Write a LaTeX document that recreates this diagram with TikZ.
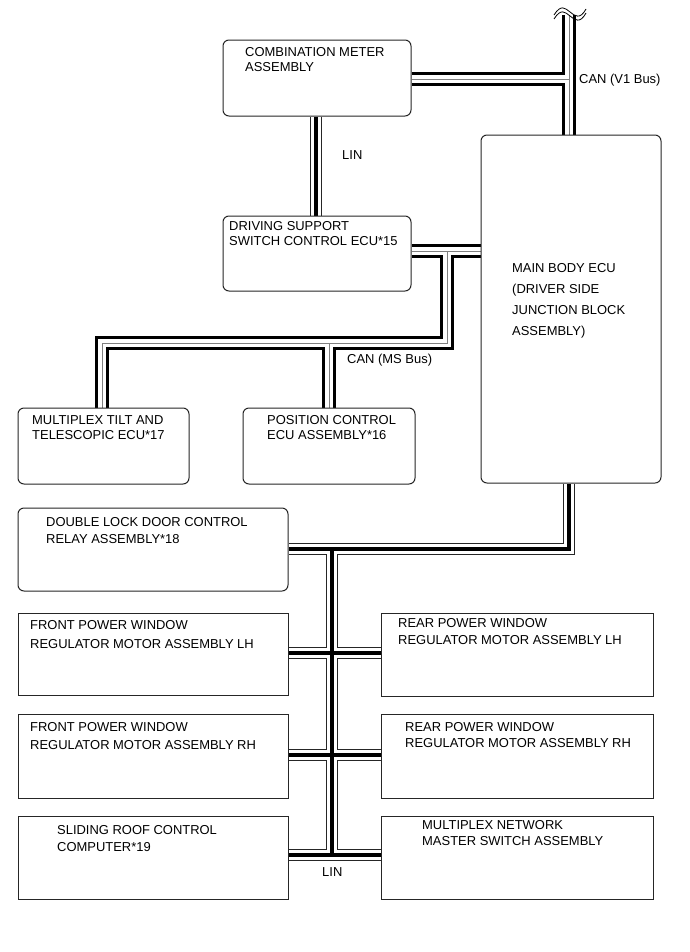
\documentclass[tikz,border=0pt]{standalone}
\usepackage{fontspec}
\setmainfont{Liberation Sans}
\pgfdeclarelayer{bg}
\pgfsetlayers{bg,main}
\begin{document}
\begin{tikzpicture}[x=1bp,y=-1bp,
  box/.style={draw=black!85, line width=1bp, rounded corners=6bp, inner sep=0pt, anchor=north west},
  sbox/.style={box, rounded corners=0pt},
  txt/.style={anchor=north west, inner sep=0pt, align=left, font=\fontsize{13}{15}\selectfont},
  canO/.style={line width=14bp, black, line join=miter},
  canW/.style={line width=8bp, white, line join=miter},
  canC/.style={line width=1bp, black!50, line join=miter},
  linO/.style={line width=12bp, black!85, line join=miter},
  linW/.style={line width=10bp, white, line join=miter},
  linC/.style={line width=4bp, black, line join=miter}]
\useasboundingbox (0,0) rectangle (690,952);

% boxes
\node[box, minimum width=188bp, minimum height=76bp] (cm) at (222.5,39.5) {};
\node[box, minimum width=188bp, minimum height=75bp] (ds) at (222.5,215.5) {};
\node[box, minimum width=180bp, minimum height=348bp] (mb) at (480.5,134.5) {};
\node[box, minimum width=171bp, minimum height=76bp] (tt) at (17.5,407.5) {};
\node[box, minimum width=172bp, minimum height=76bp] (pc) at (242.5,407.5) {};
\node[box, minimum width=270bp, minimum height=83bp] (dl) at (17.5,507.5) {};
\node[sbox, minimum width=270bp, minimum height=82bp] (flh) at (17.5,612.5) {};
\node[sbox, minimum width=272bp, minimum height=83bp] (rlh) at (380.5,612.5) {};
\node[sbox, minimum width=270bp, minimum height=84bp] (frh) at (17.5,713.5) {};
\node[sbox, minimum width=272bp, minimum height=84bp] (rrh) at (380.5,713.5) {};
\node[sbox, minimum width=270bp, minimum height=83bp] (sr) at (17.5,815.5) {};
\node[sbox, minimum width=272bp, minimum height=83bp] (mn) at (380.5,815.5) {};

% texts
\node[txt] (cmt) at (245,47) {COMBINATION METER\\ASSEMBLY};
\node[txt] (dst) at (229,221) {DRIVING SUPPORT\\SWITCH CONTROL ECU*15};
\node[txt, font=\fontsize{13}{21}\selectfont] (mbt) at (512,263) {MAIN BODY ECU\\(DRIVER SIDE\\JUNCTION BLOCK\\ASSEMBLY)};
\node[txt] (ttt) at (32,415) {MULTIPLEX TILT AND\\TELESCOPIC ECU*17};
\node[txt] (pct) at (267,415) {POSITION CONTROL\\ECU ASSEMBLY*16};
\node[txt, font=\fontsize{13}{17}\selectfont] (dlt) at (46,517) {DOUBLE LOCK DOOR CONTROL\\RELAY ASSEMBLY*18};
\node[txt, font=\fontsize{13}{19}\selectfont] (flht) at (30,620) {FRONT POWER WINDOW\\REGULATOR MOTOR ASSEMBLY LH};
\node[txt, font=\fontsize{13}{17}\selectfont] (rlht) at (398,618) {REAR POWER WINDOW\\REGULATOR MOTOR ASSEMBLY LH};
\node[txt, font=\fontsize{13}{18}\selectfont] (frht) at (30,722) {FRONT POWER WINDOW\\REGULATOR MOTOR ASSEMBLY RH};
\node[txt, font=\fontsize{13}{16}\selectfont] (rrht) at (405,722) {REAR POWER WINDOW\\REGULATOR MOTOR ASSEMBLY RH};
\node[txt, font=\fontsize{13}{17}\selectfont] (srt) at (57,825) {SLIDING ROOF CONTROL\\COMPUTER*19};
\node[txt, font=\fontsize{13}{16}\selectfont] (mnt) at (422,820) {MULTIPLEX NETWORK\\MASTER SWITCH ASSEMBLY};

% bus labels
\node[txt] (lv1) at (579,74) {CAN (V1 Bus)};
\node[txt] (llin1) at (342,150) {LIN};
\node[txt] (lms) at (347,354) {CAN (MS Bus)};
\node[txt] (llin2) at (322,867) {LIN};

% junction coordinates
\coordinate (v1top) at (569,15);
\coordinate (v1j) at (569,79);
\coordinate (msj) at (447,251);
\coordinate (msc) at (447,343);
\coordinate (mst) at (102,343);
\coordinate (msp) at (329,343);
\coordinate (l1) at (316,115);
\coordinate (lb0) at (569,549);
\coordinate (lbj) at (332,549);
\coordinate (lb1) at (332,653);
\coordinate (lb2) at (332,755);
\coordinate (lb3) at (332,855);

\begin{pgfonlayer}{bg}
\fill[white] (0,0) rectangle (690,952);
% CAN V1
\foreach \s in {canO,canW,canC}
  \draw[\s] (v1top) -- (v1top |- mb.north) (cm.east |- v1j) -- (v1j);
% LIN top
\foreach \s in {linO,linW,linC}
  \draw[\s] (l1 |- cm.south) -- (l1 |- ds.north);
% CAN MS
\foreach \s in {canO,canW,canC}
  \draw[\s] (ds.east |- msj) -- (mb.west |- msj)
            (msj) -- (msc) -- (mst) -- (mst |- tt.north)
            (msp) -- (msp |- pc.north);
% LIN bottom
\foreach \s in {linO,linW,linC}
  \draw[\s] (lb0 |- mb.south) -- (lb0) -- (dl.east |- lb0)
            (lbj) -- (lb3)
            (flh.east |- lb1) -- (rlh.west |- lb1)
            (frh.east |- lb2) -- (rrh.west |- lb2)
            (sr.east |- lb3) -- (mn.west |- lb3);
\end{pgfonlayer}

% break symbol
\draw[line width=0.8bp] (554,15) .. controls (561,4) and (565,8) .. (570,12) .. controls (575,16) and (580,20) .. (586,9);
\draw[line width=0.8bp] (554,19) .. controls (561,8) and (565,12) .. (570,16) .. controls (575,20) and (580,24) .. (586,13);
\end{tikzpicture}
\end{document}
